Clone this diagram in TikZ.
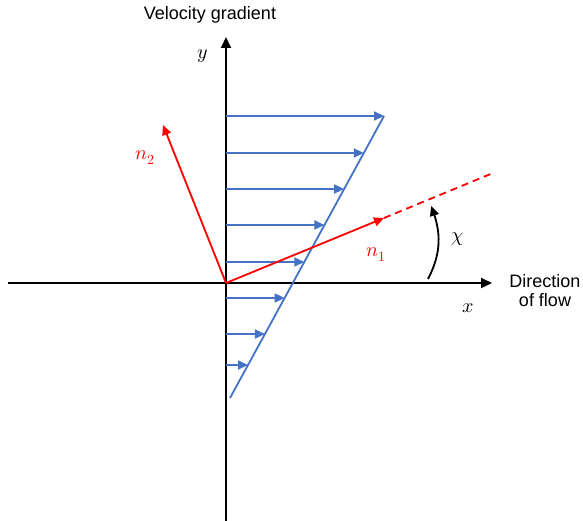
\documentclass[tikz,border=0pt]{standalone}
\usepackage{fontspec}
\usepackage{unicode-math}
\setmainfont{Liberation Sans}
\setmathfont{Latin Modern Math}
\usetikzlibrary{arrows.meta,bending}
\definecolor{flowblue}{RGB}{68,114,196}
\begin{document}
\begin{tikzpicture}[x=1pt,y=-1pt,
  axis/.style={line width=2pt,black,-{Triangle[length=11pt,width=10pt]}},
  bluearr/.style={line width=1.8pt,flowblue,-{Triangle[length=10pt,width=9pt]}},
  blueline/.style={line width=1.8pt,flowblue},
  redarr/.style={line width=1.8pt,red,-{Triangle[length=10pt,width=9pt]}},
  reddash/.style={line width=1.8pt,red,dash pattern=on 7pt off 5pt},
  lab/.style={font=\fontsize{18}{21}\selectfont,inner sep=0pt},
  mathlab/.style={font=\fontsize{20}{23}\selectfont,inner sep=0pt}]
\useasboundingbox (0,0) rectangle (583,521);
% coordinates
\coordinate (O) at (226,283);
\coordinate (xl) at (8,283);
\coordinate (xr) at (492,283);
\coordinate (yb) at (226,521);
\coordinate (yt) at (226,37);
\coordinate (bt) at (384,116);
\coordinate (bb) at (230,398);
% axes
\draw[axis] (xl) -- (xr);
\draw[axis] (yb) -- (yt);
% blue profile line
\draw[blueline] (bb) -- (bt);
% blue arrows
\foreach \i/\yy in {1/116,2/153,3/189,4/225,5/262,6/298,7/334,8/365}{
  \coordinate (s\i) at (226,\yy);
  \coordinate (e\i) at ({230+(398-\yy)*0.5461},\yy);
  \draw[bluearr] (s\i) -- (e\i);
}
% red vectors
\coordinate (n1tip) at (384,218);
\coordinate (n1end) at (493,173);
\coordinate (n2tip) at (163,125);
\draw[reddash] (n1tip) -- (n1end);
\draw[redarr] (O) -- (n1tip);
\draw[redarr] (O) -- (n2tip);
% angle arrow
\coordinate (ca) at (428,279);
\coordinate (cb) at (431,206);
\draw[line width=1.8pt,black,-{Triangle[length=10pt,width=9pt,bend]}] (ca) to[bend right=25] (cb);
% labels
\node[lab] (vg) at (210,15) {Velocity gradient};
\node[lab,align=center] (df) at (545,291) {Direction\\[-2pt]of flow};
\node[mathlab] (ylab) at (203,56) {$y$};
\node[mathlab] (xlab) at (468,308) {$x$};
\node[mathlab,red] (n1lab) at (376,255) {$n_1$};
\node[mathlab,red] (n2lab) at (145,158) {$n_2$};
\node[mathlab] (chilab) at (458,239) {$\chi$};
\end{tikzpicture}
\end{document}
